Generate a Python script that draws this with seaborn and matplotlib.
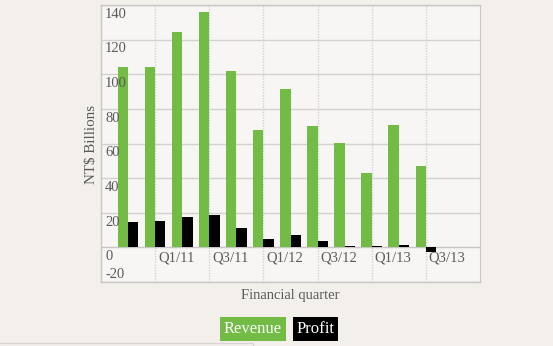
import matplotlib
matplotlib.use("Agg")
import matplotlib.pyplot as plt
import matplotlib.transforms as mtransforms
from matplotlib.lines import Line2D
import seaborn as sns
import pandas as pd

quarters = ["Q4/10", "Q1/11", "Q2/11", "Q3/11", "Q4/11", "Q1/12", "Q2/12",
            "Q3/12", "Q4/12", "Q1/13", "Q2/13", "Q3/13"]
revenue = [104.2, 104.3, 124.6, 136.0, 101.6, 67.8, 91.4, 70.3, 60.1, 42.9, 70.9, 47.1]
profit = [14.6, 15.0, 17.5, 18.7, 11.0, 4.6, 7.3, 3.9, 1.0, 0.6, 1.2, -2.7]
series = ["Revenue", "Profit"]
y_ticks = [-20, 0, 20, 40, 60, 80, 100, 120, 140]
x_tick_labels = ["Q1/11", "Q3/11", "Q1/12", "Q3/12", "Q1/13", "Q3/13"]

GREEN = "#72bb44"
BLACK = "#000000"
FIG_BG = "#f3f0ec"
AX_BG = "#f8f6f4"
GRID = "#d4d2d0"
TXT = "#5a5a5a"

df = pd.DataFrame({
    "Quarter": quarters * 2,
    "Value": revenue + profit,
    "Series": [series[0]] * len(quarters) + [series[1]] * len(quarters),
})

sns.set_style("white")
plt.rcParams["font.family"] = ["Liberation Serif", "DejaVu Serif"]

fig = plt.figure(figsize=(5.53, 3.46), dpi=100, facecolor=FIG_BG)
ax = fig.add_axes([101 / 553, 1 - 282 / 346, 379 / 553, 277 / 346])
ax.set_facecolor(AX_BG)

sns.barplot(data=df, x="Quarter", y="Value", hue="Series", order=quarters,
            hue_order=series, palette=[GREEN, BLACK], width=0.76, gap=0,
            saturation=1, edgecolor="none", linewidth=0, legend=False, ax=ax)

ax.set_xlim(-1, 13)
ax.set_ylim(-20, 140)

# grid lines
for y in y_ticks:
    ax.axhline(y, color=GRID if y != 0 else "#c8c6c4", lw=1.0, zorder=0.5)
for x in [1, 3, 5, 7, 9, 11]:
    ax.axvline(x, color=GRID, lw=1.0, ls=(0, (1, 1)), zorder=0.5)

ax.set_xticks([])
ax.set_yticks([])
for s in ["top", "bottom", "left"]:
    ax.spines[s].set_color("#c8c6c4")
    ax.spines[s].set_linewidth(1.0)
ax.spines["right"].set_color("#c8c6c4")
ax.spines["right"].set_linestyle((0, (1, 1)))

# y tick labels inside the plot
ytr = ax.get_yaxis_transform()
off = mtransforms.offset_copy(ytr, fig=fig, x=3, y=-2, units="points")
off_b = mtransforms.offset_copy(ytr, fig=fig, x=3, y=1, units="points")
for y in y_ticks:
    if y == y_ticks[0]:
        ax.text(0, y, str(y), transform=off_b, ha="left", va="bottom",
                fontsize=10.5, color=TXT)
    else:
        ax.text(0, y, str(y), transform=off, ha="left", va="top",
                fontsize=10.5, color=TXT)

# x labels below zero line
xoff = mtransforms.offset_copy(ax.transData, fig=fig, x=2, y=-3, units="points")
for pos, lab in zip([1, 3, 5, 7, 9, 11], x_tick_labels):
    ax.text(pos, 0, lab, transform=xoff, ha="left", va="top",
            fontsize=10.5, color=TXT)

ax.set_xlabel("")
ax.set_ylabel("")
fig.text(290 / 553, 1 - 295 / 346, "Financial quarter", ha="center",
         va="center", fontsize=10.5, color=TXT)
fig.text(92 / 553, 1 - 144 / 346, "NT$ Billions", ha="center", va="center",
         rotation=90, fontsize=10.8, color=TXT)

# legend boxes
fig.text(253 / 553, 1 - 329 / 346, series[0], ha="center", va="center",
         fontsize=12, color="white",
         bbox=dict(boxstyle="square,pad=0.22", fc=GREEN, ec="none"))
fig.text(315.5 / 553, 1 - 329 / 346, series[1], ha="center", va="center",
         fontsize=12, color="white",
         bbox=dict(boxstyle="square,pad=0.22", fc=BLACK, ec="none"))

# faint frame at bottom-left
fig.add_artist(Line2D([0, 253 / 553, 253 / 553], [1 - 343 / 346, 1 - 343 / 346, 0],
                      transform=fig.transFigure, color="#d8d6d4", lw=1))

fig.savefig("out.png", dpi=100, facecolor=FIG_BG)
